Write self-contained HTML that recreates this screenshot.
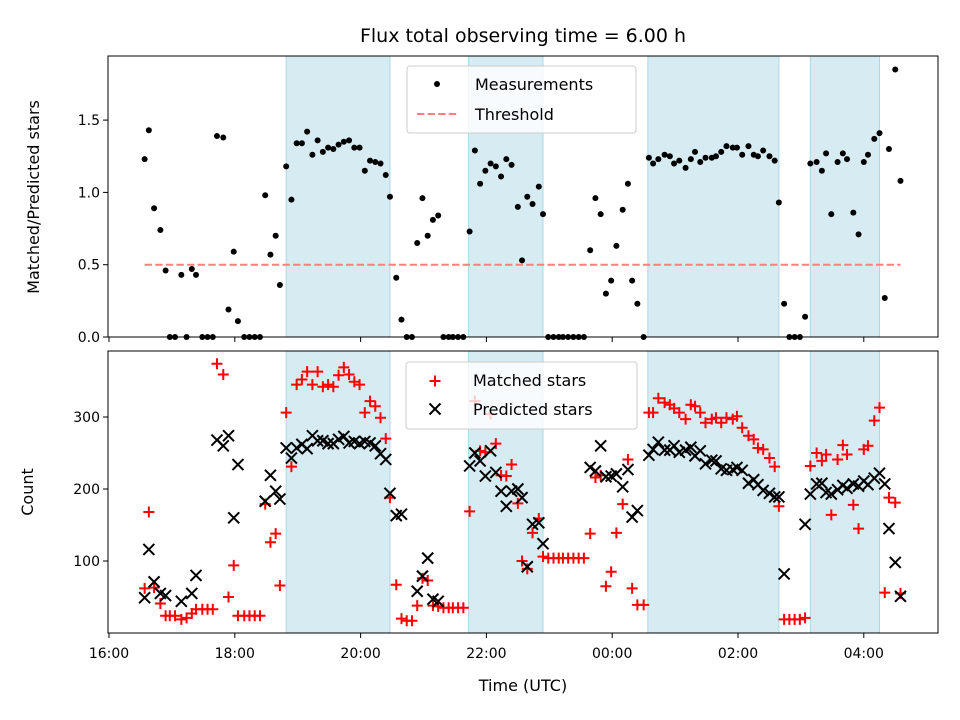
<!DOCTYPE html>
<html><head><meta charset="utf-8"><style>
html,body{margin:0;padding:0;background:#fff;}
svg{display:block;font-family:"DejaVu Sans","Liberation Sans",sans-serif;}
</style></head><body>
<svg id="chart" width="960" height="720" viewBox="0 0 960 720" xmlns="http://www.w3.org/2000/svg">
<rect width="960" height="720" fill="#fff"/>
<text x="523" y="42" font-size="19" text-anchor="middle" fill="#000">Flux total observing time = 6.00 h</text>
<g id="top"></g><g id="bot"></g>
<text transform="translate(39,197) rotate(-90)" font-size="16" text-anchor="middle">Matched/Predicted stars</text>
<text transform="translate(33,492) rotate(-90)" font-size="16" text-anchor="middle">Count</text>
<text x="523" y="691" font-size="16" text-anchor="middle">Time (UTC)</text>
</svg>
<script>
// minutes since 16:00 UTC
const times=[34,38,43,49,54,58,63,69,74,79,83,89,94,99,103,109,114,119,123,129,134,139,144,149,154,159,163,169,174,179,184,189,194,199,204,209,214,219,224,229,234,239,244,249,254,259,264,268,274,279,284,289,294,299,304,309,314,319,324,328,333,338,344,349,354,359,364,369,374,379,384,390,394,399,404,410,414,419,424,429,433,438,443,448,453,459,464,469,474,479,484,490,495,499,504,510,515,519,524,530,535,539,544,550,555,559,564,569,575,579,584,589,595,599,604,610,615,619,624,630,635,639,644,649,654,659,664,669,675,680,684,689,695,700,704,710,715,720,724,730,735,740,744,750,755];
const ratio=[1.23,1.43,.89,.74,.46,0,0,.43,0,.47,.43,0,0,0,1.39,1.38,.19,.59,.11,0,0,0,0,.98,.57,.70,.36,1.18,.95,1.34,1.34,1.42,1.26,1.36,1.28,1.31,1.30,1.33,1.35,1.36,1.31,1.31,1.15,1.22,1.21,1.20,1.12,.97,.41,.12,0,0,.65,.96,.70,.81,.84,0,0,0,0,0,.73,1.29,1.06,1.15,1.20,1.18,1.11,1.23,1.19,.90,.53,.97,.92,1.04,.85,0,0,0,0,0,0,0,0,.60,.96,.85,.30,.39,.63,.88,1.06,.39,.23,0,1.24,1.20,1.23,1.26,1.25,1.20,1.22,1.17,1.23,1.28,1.21,1.24,1.24,1.25,1.28,1.32,1.31,1.31,1.26,1.32,1.26,1.25,1.29,1.25,1.22,.93,.23,0,0,0,.14,1.20,1.21,1.15,1.27,.85,1.21,1.27,1.23,.86,.71,1.21,1.26,1.37,1.41,.27,1.30,1.85,1.08];
const matched=[62,168,63,41,24,24,24,19,21,27,33,33,33,33,374,359,50,94,24,24,24,24,24,179,126,138,66,306,231,345,352,363,345,363,342,345,342,358,369,359,349,345,306,322,315,299,270,188,67,20,17,17,38,76,73,38,37,35,35,35,35,35,169,322,253,251,304,263,219,218,234,180,100,89,139,159,106,104,104,104,104,104,104,104,104,138,216,219,65,85,139,179,241,62,39,39,306,306,326,320,317,312,306,297,317,315,306,292,297,299,292,299,297,301,285,274,269,257,255,243,231,176,19,19,19,19,21,232,250,239,248,164,241,261,248,178,145,255,260,295,313,56,188,181,55];
const predicted=[49,116,71,55,52,null,null,44,null,55,80,null,null,null,268,260,274,160,234,null,null,null,null,183,219,197,186,257,243,257,262,256,274,267,267,263,263,269,273,264,266,263,266,264,260,249,241,194,163,165,null,null,58,79,104,47,44,null,null,null,null,null,232,250,239,218,253,223,197,176,197,200,188,92,151,153,124,null,null,null,null,null,null,null,null,230,225,260,217,218,221,203,227,161,170,null,247,255,265,254,254,260,251,254,258,246,253,235,240,239,228,226,227,230,226,208,213,206,198,194,189,189,82,null,null,null,151,193,207,208,195,193,199,205,201,207,204,211,206,215,222,207,145,98,51];
const spanStarts=[169,343,514,669];
const spanEnds=[268,414,639,735];
const threshold=0.5;
const xTicks=[0,120,240,360,480,600,720];
const xTickLabels=["16:00","18:00","20:00","22:00","00:00","02:00","04:00"];
const topTicks=[0,0.5,1.0,1.5];
const botTicks=[100,200,300];

const NS="http://www.w3.org/2000/svg";
const L=108,R=938;
const X=m=>109+m/60*62.9;
const Yt=v=>337-v*144.6;
const Yb=v=>633-v*0.72;
function mk(p,tag,a){const e=document.createElementNS(NS,tag);for(const k in a)e.setAttribute(k,a[k]);p.appendChild(e);return e;}

function panel(g,top,bottom,name){
  const bg=mk(g,'rect',{x:L,y:top,width:R-L,height:bottom-top,fill:'#fff'});
  
  
  for(let i=0;i<spanStarts.length;i++){
    const s=mk(g,'rect',{x:X(spanStarts[i]),y:top,width:X(spanEnds[i])-X(spanStarts[i]),height:bottom-top,fill:'#add8e6','fill-opacity':0.5,stroke:'#add8e6','stroke-width':1});
    
    
  }
  for(let i=0;i<xTicks.length;i++){
    const t=mk(g,'line',{x1:X(xTicks[i]),x2:X(xTicks[i]),y1:bottom,y2:bottom+5,stroke:'#000','stroke-width':1});
    
    
  }
}
function frame(g,top,bottom,name){
  const f=mk(g,'rect',{x:L,y:top,width:R-L,height:bottom-top,fill:'none',stroke:'#000','stroke-width':1});
  
  
}

// TOP PANEL
const gt=document.getElementById('top');
panel(gt,56,337,'top');
const th=mk(gt,'line',{x1:X(times[0]),x2:X(times[times.length-1]),y1:Yt(threshold),y2:Yt(threshold),stroke:'#ff7f7f','stroke-width':2,'stroke-dasharray':'7.4,3.2'});


for(let i=0;i<times.length;i++){
  const c=mk(gt,'circle',{cx:X(times[i]),cy:Yt(ratio[i]),r:3,fill:'#000'});
  
  
}
frame(gt,56,337,'top');
topTicks.forEach(v=>{
  const t=mk(gt,'line',{x1:L-5,x2:L,y1:Yt(v),y2:Yt(v),stroke:'#000'});
  
  
  const lb=mk(gt,'text',{x:L-8,y:Yt(v)+5,'font-size':14,'text-anchor':'end'});
  lb.textContent=v.toFixed(1);
  
  
});
// top legend
const lg1=mk(gt,'g',{});


mk(lg1,'rect',{x:407,y:66,width:229,height:67,rx:3,fill:'#fff','fill-opacity':0.8,stroke:'#ccc'});
mk(lg1,'circle',{cx:437,cy:84,r:3,fill:'#000'});
mk(lg1,'line',{x1:417,x2:457,y1:114,y2:114,stroke:'#ff7f7f','stroke-width':2,'stroke-dasharray':'7.4,3.2'});
const t1=mk(lg1,'text',{x:475,y:90,'font-size':16});t1.textContent='Measurements';


const t2=mk(lg1,'text',{x:475,y:120,'font-size':16});t2.textContent='Threshold';



// BOTTOM PANEL
const gb=document.getElementById('bot');
panel(gb,351,633,'bottom');
function plus(g,x,y){const p=mk(g,'path',{d:`M${x-5.5},${y}H${x+5.5}M${x},${y-5.5}V${y+5.5}`,stroke:'#ff0000','stroke-width':2,fill:'none'});return p;}
function cross(g,x,y){const p=mk(g,'path',{d:`M${x-5.5},${y-5.5}L${x+5.5},${y+5.5}M${x-5.5},${y+5.5}L${x+5.5},${y-5.5}`,stroke:'#000','stroke-width':2,fill:'none'});return p;}
for(let i=0;i<times.length;i++){
  const p=plus(gb,X(times[i]),Yb(matched[i]));
  
  
}
for(let i=0;i<times.length;i++){
  if(predicted[i]===null)continue;
  const p=cross(gb,X(times[i]),Yb(predicted[i]));
  
  
}
frame(gb,351,633,'bottom');
botTicks.forEach(v=>{
  const t=mk(gb,'line',{x1:L-5,x2:L,y1:Yb(v),y2:Yb(v),stroke:'#000'});
  
  
  const lb=mk(gb,'text',{x:L-8,y:Yb(v)+5,'font-size':14,'text-anchor':'end'});
  lb.textContent=String(v);
  
  
});
xTicks.forEach((m,i)=>{
  const lb=mk(gb,'text',{x:X(m),y:658,'font-size':14,'text-anchor':'middle'});
  lb.textContent=xTickLabels[i];
  
  
});
const lg2=mk(gb,'g',{});


mk(lg2,'rect',{x:406,y:362,width:231,height:67,rx:3,fill:'#fff','fill-opacity':0.8,stroke:'#ccc'});
plus(lg2,435,381);
cross(lg2,435,409);
const t3=mk(lg2,'text',{x:473,y:386,'font-size':16});t3.textContent='Matched stars';


const t4=mk(lg2,'text',{x:473,y:415,'font-size':16});t4.textContent='Predicted stars';


</script>
</body></html>
